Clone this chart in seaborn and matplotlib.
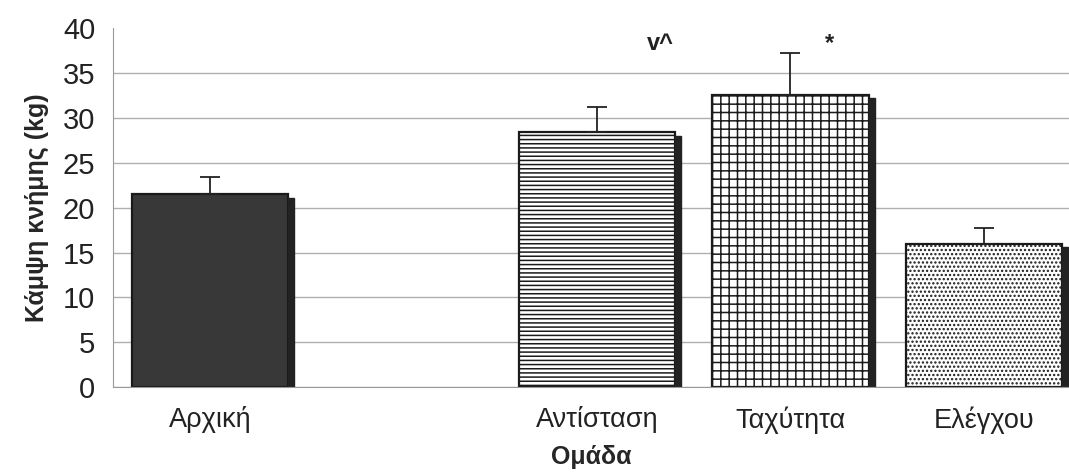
import matplotlib
matplotlib.use("Agg")
import matplotlib.pyplot as plt
from matplotlib.patches import Rectangle
import seaborn as sns
import pandas as pd

# data
groups = ["Αρχική", "Αντίσταση", "Ταχύτητα", "Ελέγχου"]
order = ["Αρχική", " ", "Αντίσταση", "Ταχύτητα", "Ελέγχου"]
means = [21.5, 28.4, 32.6, 16.0]
sd_up = [1.9, 2.8, 4.6, 1.7]
mark_groups = ["Αντίσταση", "Ταχύτητα"]
mark_texts = ["v^", "*"]

faces = ["#383838", "white", "white", "white"]
hatches = [None, "----", "++", "...."]

sns.set_style("white")
plt.rcParams["font.family"] = ["Liberation Sans", "DejaVu Sans"]
plt.rcParams["hatch.linewidth"] = 1.1
plt.rcParams["text.color"] = "#222222"
plt.rcParams["xtick.labelcolor"] = "#222222"
plt.rcParams["ytick.labelcolor"] = "#222222"

df = pd.DataFrame({"group": groups, "value": means})

fig = plt.figure(figsize=(10.69, 4.72), dpi=100)
ax = fig.add_axes([0.106, 0.18, 0.894, 0.76])

sns.barplot(data=df, x="group", y="value", order=order, width=0.81,
            color="white", ax=ax, zorder=2)

bars = [p for p in ax.patches if p.get_height() > 0]
for p, fc, h in zip(bars, faces, hatches):
    p.set_facecolor(fc)
    p.set_edgecolor("#1a1a1a")
    p.set_linewidth(1.6)
    if h:
        p.set_hatch(h)
    # dark side strip for the 3-D look
    ax.add_patch(Rectangle((p.get_x() + p.get_width(), 0), 0.03,
                           p.get_height() - 0.4, color="#222222", zorder=2))

xs = [order.index(g) for g in groups]
ax.errorbar(xs, means, yerr=[[0] * len(means), sd_up], fmt="none",
            ecolor="#222222", elinewidth=1.3, capsize=7, capthick=1.3, zorder=3)

for g, txt, dx in zip(mark_groups, mark_texts, [0.33, 0.2]):
    i = order.index(g)
    ax.text(i + dx, 37.0, txt, ha="center", va="bottom",
            fontsize=17, fontweight="bold")

ax.set_ylim(0, 40)
ax.set_xlim(-0.5, 4.44)
ax.set_yticks(range(0, 41, 5))
ax.yaxis.grid(True, color="#b0b0b0", linewidth=1.0, zorder=0)
ax.get_ygridlines()[-1].set_visible(False)
ax.set_axisbelow(True)
ax.tick_params(axis="y", labelsize=21, length=5, color="#888888", pad=8)
ax.tick_params(axis="x", labelsize=19.5, length=0, pad=14)
ax.set_xticks(range(len(order)))
ax.set_xticklabels(order)
ax.set_xticks([i + 0.5 for i in range(len(order) - 1)], minor=True)
ax.tick_params(axis="x", which="minor", length=5, color="#888888")

for s in ["top", "right"]:
    ax.spines[s].set_visible(False)
ax.spines["left"].set_color("#999999")
ax.spines["bottom"].set_color("#999999")

ax.set_ylabel("Κάμψη κνήμης (kg)", fontsize=18, fontweight="bold", labelpad=10)
ax.set_xlabel("Ομάδα", fontsize=18, fontweight="bold", labelpad=8)

fig.savefig("out.png", dpi=100)
